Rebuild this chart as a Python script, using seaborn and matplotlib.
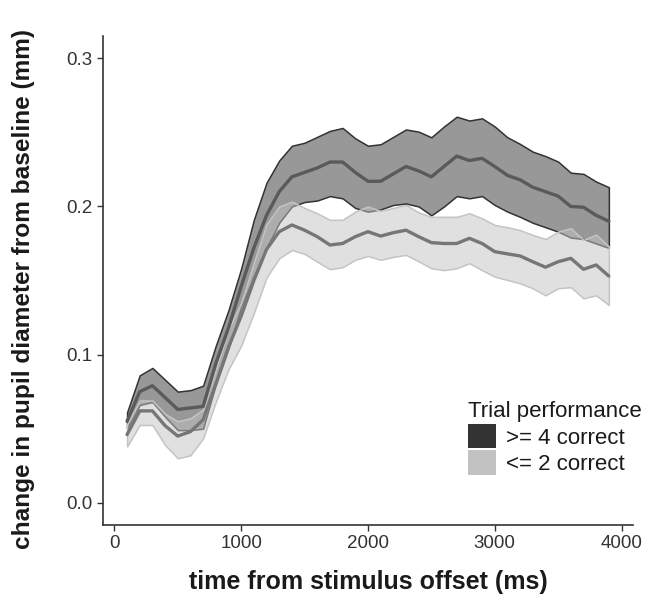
import numpy as np
import pandas as pd
import matplotlib
matplotlib.use("Agg")
import matplotlib.pyplot as plt
from matplotlib.patches import Patch
from matplotlib.colors import to_rgba
import seaborn as sns

time_ms = list(range(100, 4000, 100))

# >= 4 correct : mean, upper and lower band
mean_hi = [0.055, 0.075, 0.079, 0.071, 0.063, 0.064, 0.065, 0.094, 0.118, 0.146,
           0.172, 0.194, 0.210, 0.220, 0.223, 0.226, 0.230, 0.230, 0.223, 0.217,
           0.217, 0.222, 0.227, 0.224, 0.220, 0.227, 0.234, 0.231, 0.2325, 0.227,
           0.221, 0.218, 0.213, 0.210, 0.207, 0.200, 0.1995, 0.194, 0.190]
upper_hi = [0.061, 0.086, 0.091, 0.083, 0.075, 0.076, 0.079, 0.106, 0.130, 0.158,
            0.191, 0.216, 0.231, 0.241, 0.243, 0.247, 0.251, 0.253, 0.246, 0.241,
            0.242, 0.247, 0.252, 0.2505, 0.2467, 0.254, 0.2606, 0.258, 0.2595, 0.254,
            0.2467, 0.2422, 0.237, 0.234, 0.2303, 0.2228, 0.222, 0.2168, 0.213]
lower_hi = [0.050, 0.066, 0.068, 0.058, 0.049, 0.049, 0.050, 0.080, 0.104, 0.132,
            0.153, 0.172, 0.189, 0.200, 0.203, 0.204, 0.207, 0.2055, 0.199, 0.1965,
            0.198, 0.201, 0.202, 0.200, 0.194, 0.200, 0.207, 0.2055, 0.207, 0.201,
            0.1965, 0.193, 0.189, 0.186, 0.183, 0.179, 0.178, 0.175, 0.172]

# <= 2 correct : mean, upper and lower band
mean_lo = [0.046, 0.062, 0.062, 0.052, 0.045, 0.048, 0.056, 0.080, 0.105, 0.126,
           0.150, 0.171, 0.183, 0.1875, 0.184, 0.1796, 0.174, 0.175, 0.1796, 0.183,
           0.180, 0.1823, 0.184, 0.1796, 0.1756, 0.175, 0.175, 0.1785, 0.175, 0.1695,
           0.168, 0.1666, 0.1627, 0.159, 0.1627, 0.165, 0.1576, 0.1605, 0.153]
upper_lo = [0.053, 0.069, 0.069, 0.060, 0.055, 0.057, 0.063, 0.090, 0.117, 0.135,
            0.162, 0.188, 0.200, 0.2033, 0.199, 0.1954, 0.191, 0.191, 0.1965, 0.200,
            0.197, 0.199, 0.201, 0.196, 0.193, 0.193, 0.193, 0.1954, 0.192, 0.1875,
            0.186, 0.184, 0.1808, 0.178, 0.183, 0.1853, 0.1774, 0.181, 0.173]
lower_lo = [0.038, 0.0525, 0.0525, 0.039, 0.030, 0.032, 0.0435, 0.068, 0.090, 0.106,
            0.128, 0.152, 0.165, 0.1706, 0.168, 0.1627, 0.1576, 0.159, 0.164, 0.1666,
            0.164, 0.166, 0.1673, 0.163, 0.1583, 0.157, 0.1583, 0.1617, 0.157, 0.1526,
            0.1504, 0.1481, 0.1448, 0.140, 0.1448, 0.1455, 0.138, 0.140, 0.1335]

groups = [">= 4 correct", "<= 2 correct"]
x_ticks = [0, 1000, 2000, 3000, 4000]
y_ticks = [0.0, 0.1, 0.2, 0.3]

sns.set_theme(style="white")
plt.rcParams["font.family"] = ["Liberation Sans", "DejaVu Sans"]

df = pd.concat([
    pd.DataFrame({"time": time_ms, "mean": mean_hi, "lo": lower_hi, "hi": upper_hi, "group": groups[0]}),
    pd.DataFrame({"time": time_ms, "mean": mean_lo, "lo": lower_lo, "hi": upper_lo, "group": groups[1]}),
])

fill_cols = {groups[0]: "#333333", groups[1]: "#C2C2C2"}
edge_cols = {groups[0]: "#333333", groups[1]: "#C4C4C4"}
line_cols = {groups[0]: "#5A5A5A", groups[1]: "#767676"}

fig = plt.figure(figsize=(6.6, 6.02), dpi=100)
ax = fig.add_axes([0.156, 0.128, 0.803, 0.812])

for g in groups:
    d = df[df["group"] == g]
    ax.fill_between(d["time"], d["lo"], d["hi"], facecolor=to_rgba(fill_cols[g], 0.5),
                    edgecolor=edge_cols[g], linewidth=1.1)
    sns.lineplot(data=d, x="time", y="mean", color=line_cols[g], lw=2.4, ax=ax, legend=False)

ax.set_xlim(-90, 4090)
ax.set_ylim(-0.015, 0.315)
ax.set_xticks(x_ticks)
ax.set_xticklabels([str(v) for v in x_ticks])
ax.set_yticks(y_ticks)
ax.set_yticklabels([f"{v:.1f}" for v in y_ticks])
ax.tick_params(axis="both", which="major", labelsize=13.5, labelcolor="#333333",
               length=4, width=1, color="#333333", direction="out", bottom=True, left=True)

sns.despine(ax=ax)
for s in ["left", "bottom"]:
    ax.spines[s].set_color("#333333")
    ax.spines[s].set_linewidth(1.2)

ax.set_xlabel("time from stimulus offset (ms)", fontsize=18, fontweight="bold",
              color="#1a1a1a", labelpad=13)
ax.set_ylabel("change in pupil diameter from baseline (mm)", fontsize=17.6,
              fontweight="bold", color="#1a1a1a")
ax.yaxis.set_label_coords(-0.128, 0.483)

handles = [Patch(facecolor=fill_cols[g], edgecolor="none") for g in groups]
leg = ax.legend(handles, groups, title="Trial performance", loc="upper left",
                bbox_to_anchor=(0.66, 0.285), frameon=False, fontsize=16,
                title_fontsize=16, handlelength=1.26, handleheight=1.3,
                labelspacing=0.08, handletextpad=0.45, borderpad=0.2)
leg._legend_box.align = "left"
for t in leg.get_texts():
    t.set_color("#1a1a1a")
leg.get_title().set_color("#1a1a1a")

fig.savefig("out.png", dpi=100)
